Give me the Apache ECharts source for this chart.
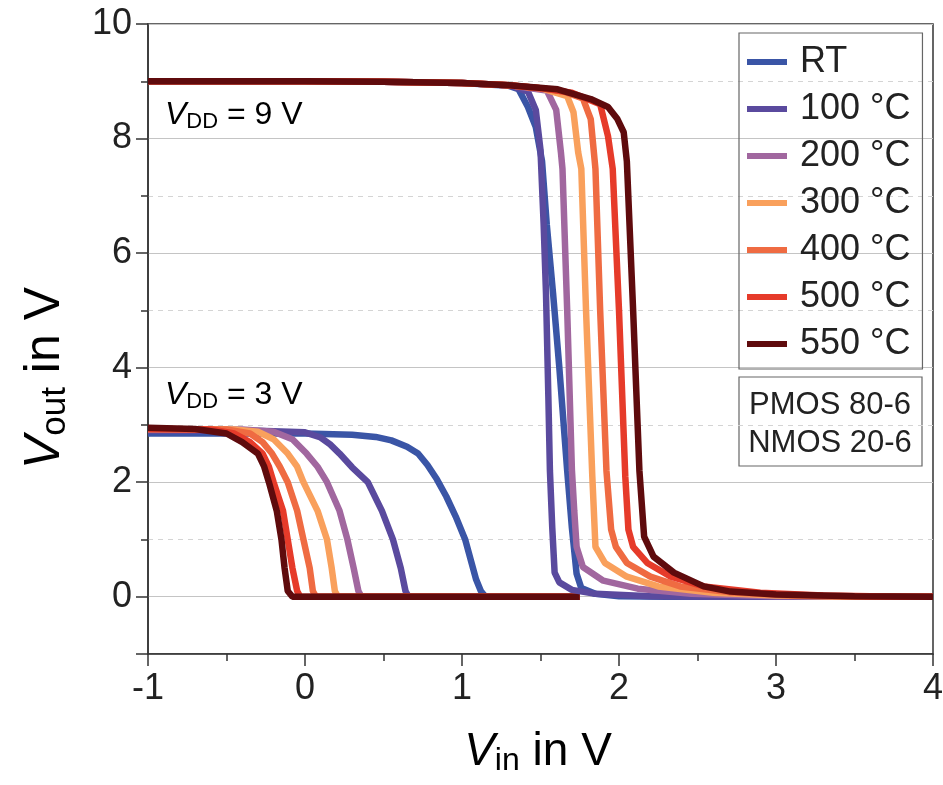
<!DOCTYPE html>
<html>
<head>
  <meta charset="utf-8">
  <script src="https://cdn.jsdelivr.net/npm/echarts@6/dist/echarts.min.js"></script>
  <style>
    html, body { margin: 0; padding: 0; background: #fff; }
  </style>
</head>
<body>
  <div id="main" style="width: 943px; height: 785px;"></div>
  <script>
    var FONT = 'Liberation Sans, Arial, sans-serif';

    // legend names and colours
    var names = ['RT', '100 °C', '200 °C', '300 °C', '400 °C', '500 °C', '550 °C'];
    var colors = ['#3a55a6', '#5a4a9e', '#a1679f', '#f9a05c', '#ef6b42', '#e63b2a', '#5f0b0d'];

    // VDD = 3 V curves, [Vin, Vout]
    var rt3 = [[-1,2.85],[0,2.85],[0.3,2.83],[0.45,2.79],[0.55,2.73],[0.65,2.62],[0.72,2.5],[0.78,2.3],[0.84,2.05],[0.9,1.75],[0.96,1.4],[1.02,1.0],[1.06,0.6],[1.09,0.3],[1.12,0.1],[1.15,0],[1.75,0]];
    var c100_3 = [[-1,2.9],[-0.3,2.9],[0,2.87],[0.1,2.78],[0.16,2.66],[0.22,2.5],[0.3,2.26],[0.4,2.0],[0.49,1.5],[0.56,1.0],[0.61,0.5],[0.64,0.1],[0.66,0],[1.75,0]];
    var c200_3 = [[-1,2.92],[-0.4,2.92],[-0.2,2.88],[-0.08,2.75],[0.01,2.5],[0.08,2.27],[0.14,2.0],[0.22,1.5],[0.27,1.0],[0.31,0.5],[0.34,0.1],[0.36,0],[1.75,0]];
    var c300_3 = [[-1,2.93],[-0.45,2.92],[-0.3,2.88],[-0.2,2.75],[-0.11,2.5],[-0.05,2.27],[-0.01,2.0],[0.08,1.5],[0.14,1.0],[0.17,0.5],[0.19,0.1],[0.21,0],[1.75,0]];
    var c400_3 = [[-1,2.93],[-0.5,2.92],[-0.35,2.85],[-0.27,2.7],[-0.21,2.5],[-0.16,2.27],[-0.11,2.0],[-0.05,1.5],[-0.01,1.0],[0.03,0.5],[0.05,0.1],[0.07,0],[1.75,0]];
    var c500_3 = [[-1,2.93],[-0.6,2.92],[-0.45,2.85],[-0.35,2.7],[-0.27,2.5],[-0.23,2.27],[-0.2,2.0],[-0.14,1.5],[-0.11,1.0],[-0.08,0.5],[-0.05,0.1],[-0.03,0],[1.75,0]];
    var c550_3 = [[-1,2.95],[-0.7,2.93],[-0.5,2.85],[-0.4,2.7],[-0.3,2.5],[-0.26,2.27],[-0.23,2.0],[-0.18,1.5],[-0.15,1.0],[-0.13,0.5],[-0.11,0.1],[-0.08,0],[1.75,0]];

    // VDD = 9 V curves, [Vin, Vout]
    var rt9 = [[-1,9],[0,9],[0.5,8.99],[1,8.97],[1.3,8.92],[1.36,8.86],[1.42,8.55],[1.47,8.2],[1.51,7.6],[1.54,6.5],[1.58,5.3],[1.62,4.0],[1.67,2.2],[1.7,1.2],[1.73,0.4],[1.76,0.15],[1.85,0.05],[2.0,0.01],[2.3,0],[4,0]];
    var c100_9 = [[-1,9],[0,9],[0.5,8.99],[1,8.97],[1.3,8.93],[1.42,8.82],[1.47,8.5],[1.5,7.8],[1.52,6.5],[1.535,5.3],[1.55,3.5],[1.56,2.2],[1.575,1.2],[1.59,0.42],[1.62,0.25],[1.7,0.12],[1.85,0.05],[2.2,0.01],[2.6,0],[4,0]];
    var c200_9 = [[-1,9],[0,9],[0.5,8.99],[1,8.97],[1.3,8.93],[1.54,8.84],[1.6,8.5],[1.63,7.76],[1.64,7.47],[1.67,5.0],[1.7,2.22],[1.715,1.5],[1.73,0.87],[1.77,0.52],[1.9,0.28],[2.12,0.14],[2.46,0.05],[3,0.01],[3.4,0],[4,0]];
    var c300_9 = [[-1,9],[0,9],[0.5,8.99],[1,8.97],[1.3,8.93],[1.5,8.88],[1.67,8.74],[1.71,8.46],[1.74,7.76],[1.76,7.47],[1.79,5.0],[1.83,2.1],[1.85,0.87],[1.91,0.59],[2.05,0.35],[2.25,0.18],[2.6,0.07],[3.0,0.02],[3.5,0],[4,0]];
    var c400_9 = [[-1,9],[0,9],[0.5,8.99],[1,8.97],[1.3,8.93],[1.5,8.88],[1.65,8.82],[1.77,8.7],[1.82,8.34],[1.85,7.47],[1.88,5.0],[1.92,2.2],[1.95,1.17],[1.98,0.87],[2.05,0.59],[2.2,0.35],[2.39,0.18],[2.7,0.08],[3.1,0.02],[3.6,0],[4,0]];
    var c500_9 = [[-1,9],[0,9],[0.5,8.99],[1,8.97],[1.3,8.93],[1.5,8.88],[1.7,8.8],[1.88,8.6],[1.93,8.04],[1.96,7.47],[2.0,5.0],[2.04,2.1],[2.06,1.17],[2.09,0.87],[2.18,0.59],[2.33,0.35],[2.54,0.18],[2.9,0.07],[3.3,0.02],[3.8,0],[4,0]];
    var c550_9 = [[-1,9],[0,9],[0.5,8.99],[1,8.97],[1.3,8.93],[1.61,8.86],[1.82,8.69],[1.93,8.55],[1.99,8.34],[2.03,8.11],[2.05,7.6],[2.09,5.0],[2.13,2.2],[2.16,1.05],[2.22,0.7],[2.35,0.42],[2.54,0.18],[2.71,0.09],[3.0,0.04],[3.5,0.01],[4,0]];

    var curves3 = [rt3, c100_3, c200_3, c300_3, c400_3, c500_3, c550_3];
    var curves9 = [rt9, c100_9, c200_9, c300_9, c400_9, c500_9, c550_9];

    var chart = echarts.init(document.getElementById('main'));

    function lineSeries(name, color, data) {
      return {
        name: name,
        type: 'line',
        xAxisIndex: 0,
        yAxisIndex: 1,
        data: data,
        symbol: 'none',
        color: color,
        lineStyle: { color: color, width: 6.5 },
        z: 3
      };
    }

    var series = [];
    for (var i = 0; i < names.length; i++) series.push(lineSeries(names[i], colors[i], curves3[i]));
    for (var j = 0; j < names.length; j++) series.push(lineSeries(names[j], colors[j], curves9[j]));

    var sub = function (size, pad) {
      return { fontFamily: FONT, fontSize: size, color: '#222', padding: [pad, 0, 0, 0] };
    };

    var option = {
      animation: false,
      backgroundColor: '#fff',
      grid: {
        left: 148, right: 10, top: 24, bottom: 131,
        outerBoundsMode: 'none',
        containLabel: false,
        show: true, borderColor: '#333', borderWidth: 1.5, backgroundColor: 'transparent'
      },
      legend: {
        data: names,
        orient: 'vertical',
        left: 739, top: 33,
        padding: [9, 12, 5, 8],
        itemGap: 7,
        itemWidth: 40, itemHeight: 6,
        icon: 'rect',
        borderColor: '#666', borderWidth: 1.2,
        textStyle: { fontFamily: FONT, fontSize: 36, lineHeight: 40, color: '#222', padding: [0, 0, 0, 8] }
      },
      xAxis: {
        type: 'value',
        min: -1, max: 4, interval: 1,
        axisLine: { show: true, onZero: false, lineStyle: { color: '#333', width: 1.5 } },
        axisTick: { show: true, length: 12, lineStyle: { color: '#333', width: 1.5 } },
        minorTick: { show: true, splitNumber: 2, length: 7, lineStyle: { color: '#333', width: 1.5 } },
        splitLine: { show: false },
        axisLabel: { fontFamily: FONT, fontSize: 36, color: '#222', margin: 17 }
      },
      yAxis: [
        {
          // minor ticks and dashed minor grid lines, drawn underneath
          type: 'value',
          position: 'left',
          min: -1, max: 10, interval: 1,
          axisLine: { show: false, onZero: false },
          axisTick: { show: true, length: 7, lineStyle: { color: '#333', width: 1.5 } },
          axisLabel: { show: false },
          splitLine: { show: true, lineStyle: { color: '#d4d4d4', width: 1, type: [5, 5] } }
        },
        {
          type: 'value',
          position: 'left',
          min: -1, max: 10, splitNumber: 5,
          axisLine: { show: true, onZero: false, lineStyle: { color: '#333', width: 1.5 } },
          axisTick: { show: true, length: 12, lineStyle: { color: '#333', width: 1.5 } },
          splitLine: { show: true, lineStyle: { color: '#c4c4c4', width: 1 } },
          axisLabel: {
            fontFamily: FONT, fontSize: 36, color: '#222', margin: 16,
            formatter: function (v) { return v < 0 ? '' : String(v); }
          }
        }
      ],
      graphic: [
        {
          type: 'text', x: 45, y: 378, rotation: Math.PI / 2,
          style: {
            text: '{i|V}{s|out}{n| in V}', align: 'center', verticalAlign: 'middle',
            rich: {
              i: { fontFamily: FONT, fontSize: 50, fontStyle: 'italic', color: '#222' },
              s: sub(35, 20),
              n: { fontFamily: FONT, fontSize: 50, color: '#222' }
            }
          }
        },
        {
          type: 'text', x: 538, y: 752,
          style: {
            text: '{i|V}{s|in}{n| in V}', align: 'center', verticalAlign: 'middle',
            rich: {
              i: { fontFamily: FONT, fontSize: 46, fontStyle: 'italic', color: '#222' },
              s: sub(32, 19),
              n: { fontFamily: FONT, fontSize: 46, color: '#222' }
            }
          }
        },
        {
          type: 'text', x: 165, y: 115,
          style: {
            text: '{i|V}{s|DD}{n| = 9 V}', align: 'left', verticalAlign: 'middle',
            rich: {
              i: { fontFamily: FONT, fontSize: 32, fontStyle: 'italic', color: '#222' },
              s: sub(22, 14),
              n: { fontFamily: FONT, fontSize: 32, color: '#222' }
            }
          }
        },
        {
          type: 'text', x: 165, y: 395,
          style: {
            text: '{i|V}{s|DD}{n| = 3 V}', align: 'left', verticalAlign: 'middle',
            rich: {
              i: { fontFamily: FONT, fontSize: 32, fontStyle: 'italic', color: '#222' },
              s: sub(22, 14),
              n: { fontFamily: FONT, fontSize: 32, color: '#222' }
            }
          }
        },
        {
          type: 'rect', shape: { x: 739, y: 377, width: 183, height: 89 },
          style: { fill: '#fff', stroke: '#666', lineWidth: 1.2 }
        },
        {
          type: 'text', x: 830, y: 405,
          style: { text: 'PMOS 80-6', font: '31px ' + FONT, fill: '#222', align: 'center', verticalAlign: 'middle' }
        },
        {
          type: 'text', x: 830, y: 443,
          style: { text: 'NMOS 20-6', font: '31px ' + FONT, fill: '#222', align: 'center', verticalAlign: 'middle' }
        }
      ],
      series: series
    };

    chart.setOption(option);
  </script>
</body>
</html>
